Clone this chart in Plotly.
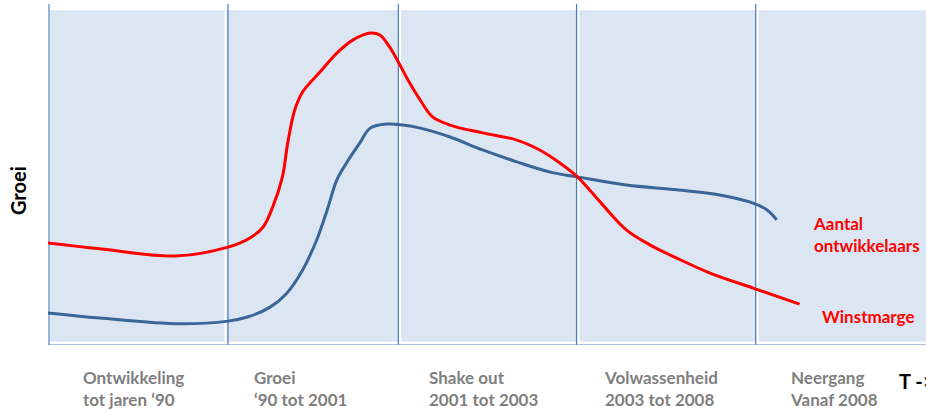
import plotly.graph_objects as go

# Time axis 0..100, growth axis 0..100
winst_x = [0.0, 5.9, 14.5, 20.5, 23.0, 24.5, 25.6, 26.7, 27.3, 28.1, 29.0, 31.0, 32.9, 34.7,
           36.7, 37.8, 38.9, 39.9, 41.2, 42.4, 43.8, 45.8, 49.5, 53.4, 56.0, 58.3, 60.3,
           62.9, 65.9, 68.6, 71.6, 75.4, 80.3, 85.6]
winst_y = [29.9, 28.2, 26.1, 28.7, 31.4, 34.6, 40.5, 49.3, 59.2, 68.9, 74.2, 80.1, 85.6, 89.4,
           91.5, 90.9, 87.4, 83.0, 76.8, 71.8, 66.9, 64.5, 62.2, 60.1, 57.2, 53.4, 49.3,
           41.9, 33.7, 29.3, 25.5, 21.1, 16.7, 12.0]

dev_x = [0.0, 5.9, 15.0, 20.5, 22.7, 25.3, 27.2, 29.0, 30.6, 31.8, 32.9, 34.0, 35.5, 36.7,
         38.6, 40.4, 42.4, 45.8, 49.5, 53.4, 57.2, 60.3, 65.9, 71.6, 76.5, 80.3, 81.9, 83.0]
dev_y = [9.4, 7.9, 6.2, 7.0, 8.2, 11.1, 15.2, 22.0, 30.8, 39.6, 48.4, 53.4, 59.2, 63.6,
         64.8, 64.5, 63.6, 61.0, 57.2, 53.7, 50.7, 49.3, 46.9, 45.5, 44.0, 41.6, 39.6, 36.7]

period_edges = [20.5, 39.9, 60.2, 80.6]
period_labels = ["Ontwikkeling<br>tot jaren ‘90", "Groei<br>‘90 tot 2001",
                 "Shake out<br>2001 tot 2003", "Volwassenheid<br>2003 tot 2008",
                 "Neergang<br>Vanaf 2008"]
label_x = [3.8, 23.2, 43.2, 63.1, 84.3]
gap_x = [20.2, 40.1, 60.4, 80.8]

FONT = "Lato"
fig = go.Figure()

fig.add_trace(go.Scatter(x=dev_x, y=dev_y, mode="lines",
                         line=dict(color="#3A6598", width=3, shape="spline", smoothing=1.0),
                         hoverinfo="skip", showlegend=False))
fig.add_trace(go.Scatter(x=winst_x, y=winst_y, mode="lines",
                         line=dict(color="#FF0000", width=3, shape="spline", smoothing=1.0),
                         hoverinfo="skip", showlegend=False))

shapes = []
# background panel
shapes.append(dict(type="rect", xref="x", yref="y", x0=0.1, x1=100, y0=1.0, y1=98.2,
                   fillcolor="#DCE6F2", line=dict(width=0), layer="below"))
for g in gap_x:
    shapes.append(dict(type="line", xref="x", yref="y", x0=g, x1=g, y0=1.0, y1=98.2,
                       line=dict(color="white", width=2), layer="below"))
for e in period_edges:
    shapes.append(dict(type="line", xref="x", yref="y", x0=e, x1=e, y0=0, y1=100,
                       line=dict(color="#4A7EBB", width=1.2), layer="below"))
# left axis
shapes.append(dict(type="line", xref="x", yref="y", x0=0.1, x1=0.1, y0=0, y1=100,
                   line=dict(color="#95B3D7", width=2), layer="below"))
# bottom axis
shapes.append(dict(type="line", xref="x", yref="y", x0=0, x1=100, y0=0, y1=0,
                   line=dict(color="#5B87C5", width=1.2), layer="below"))

annotations = []
for lx, lt in zip(label_x, period_labels):
    annotations.append(dict(x=lx, y=-0.060, xref="x", yref="paper", text="<b>" + lt + "</b>",
                            showarrow=False, xanchor="left", yanchor="top", align="left",
                            font=dict(family=FONT, size=17, color="#7F7F7F")))
annotations.append(dict(x=(897 - 48) / 8.78, y=(345 - 381) / 341, xref="x", yref="paper",
                        text="<b>T -></b>", showarrow=False, xanchor="left", yanchor="middle",
                        font=dict(family=FONT, size=20, color="black")))
annotations.append(dict(x=-48 / 878 + 18 / 878, y=(345 - 191) / 341, xref="paper", yref="paper",
                        text="<b>Groei</b>", showarrow=False, textangle=-90,
                        xanchor="center", yanchor="middle",
                        font=dict(family=FONT, size=20, color="black")))
annotations.append(dict(x=(811 - 48) / 8.78, y=(345 - 234) / 3.41, xref="x", yref="y",
                        text="<b>Aantal<br>ontwikkelaars</b>", showarrow=False,
                        xanchor="left", yanchor="middle", align="left",
                        font=dict(family=FONT, size=17, color="#FF0000")))
annotations.append(dict(x=(820 - 48) / 8.78, y=(345 - 316) / 3.41, xref="x", yref="y",
                        text="<b>Winstmarge</b>", showarrow=False,
                        xanchor="left", yanchor="middle", align="left",
                        font=dict(family=FONT, size=17, color="#FF0000")))

fig.update_layout(
    width=926, height=410,
    margin=dict(l=48, r=0, t=4, b=65),
    plot_bgcolor="white", paper_bgcolor="white",
    xaxis=dict(range=[0, 100], showgrid=False, zeroline=False, showticklabels=False,
               showline=False, ticks=""),
    yaxis=dict(range=[0, 100], showgrid=False, zeroline=False, showticklabels=False,
               showline=False, ticks=""),
    shapes=shapes, annotations=annotations,
    showlegend=False,
)

fig.write_html("out.html", config={"displayModeBar": False},
               post_script="document.body.style.margin='0';document.body.style.overflow='hidden';")
